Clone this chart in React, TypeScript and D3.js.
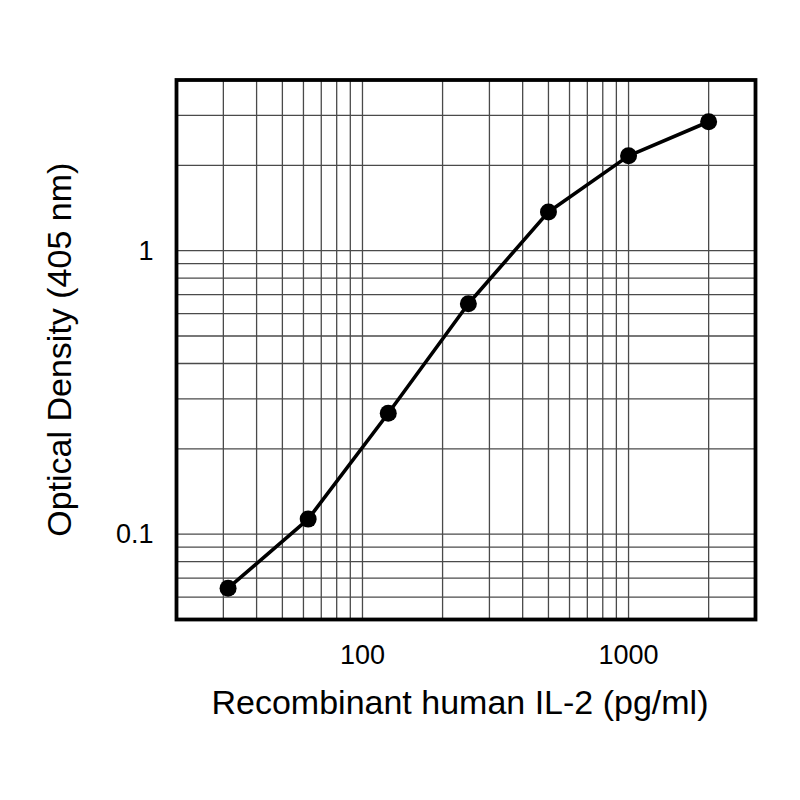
import * as d3 from "d3";

// IL-2 standard curve
const concentrations = [31.25, 62.5, 125, 250, 500, 1000, 2000];
const opticalDensity = [0.0645, 0.113, 0.267, 0.65, 1.37, 2.16, 2.85];

const xGrid = [30, 40, 50, 60, 70, 80, 90, 100, 200, 300, 400, 500, 600, 700, 800, 900, 1000, 2000];
const yGrid = [0.06, 0.07, 0.08, 0.09, 0.1, 0.2, 0.3, 0.4, 0.5, 0.6, 0.7, 0.8, 0.9, 1, 2, 3];
const xTickLabels = [100, 1000];
const yTickLabels = [0.1, 1];

const font = "'Liberation Sans', Arial, Helvetica, sans-serif";

export default function App() {
  const width = 800;
  const height = 800;
  const margin = { top: 80, right: 44.5, bottom: 180.5, left: 176.5 };

  const xScale = d3
    .scaleLog()
    .domain([20, 3000])
    .range([margin.left, width - margin.right]);

  const yScale = d3
    .scaleLog()
    .domain([0.05, 4])
    .range([height - margin.bottom, margin.top]);

  const points = concentrations.map((c, i) => ({ x: c, y: opticalDensity[i] }));

  const lineBuilder = d3
    .line<{ x: number; y: number }>()
    .x((d) => xScale(d.x))
    .y((d) => yScale(d.y));

  const [x0, x1] = xScale.range();
  const [y0, y1] = yScale.range();

  return (
    <svg
      width={width}
      height={height}
      style={{ position: "absolute", left: 0, top: 0, background: "#fff" }}
    >
      <rect x={0} y={0} width={width} height={height} fill="#fff" />

      {/* grid */}
      <g stroke="#4a4a4a" strokeWidth={1.3}>
        {xGrid.map((v) => (
          <line key={`gx${v}`} x1={xScale(v)} x2={xScale(v)} y1={y1} y2={y0} />
        ))}
        {yGrid.map((v) => (
          <line key={`gy${v}`} x1={x0} x2={x1} y1={yScale(v)} y2={yScale(v)} />
        ))}
      </g>

      {/* frame */}
      <rect
        x={x0}
        y={y1}
        width={x1 - x0}
        height={y0 - y1}
        fill="none"
        stroke="#000"
        strokeWidth={3.8}
      />

      {/* curve */}
      <path
        d={lineBuilder(points) ?? undefined}
        fill="none"
        stroke="#000"
        strokeWidth={3.6}
        strokeLinejoin="round"
      />
      {points.map((p, i) => (
        <circle key={i} cx={xScale(p.x)} cy={yScale(p.y)} r={8.5} fill="#000" />
      ))}

      {/* tick labels */}
      <g fontFamily={font} fontSize={27} fill="#000">
        {xTickLabels.map((v) => (
          <text key={`tx${v}`} x={xScale(v)} y={y0 + 44} textAnchor="middle">
            {v}
          </text>
        ))}
        {yTickLabels.map((v) => (
          <text key={`ty${v}`} x={x0 - 23} y={yScale(v)} dy="0.33em" textAnchor="end">
            {v}
          </text>
        ))}
      </g>

      {/* axis titles */}
      <text
        x={(x0 + x1) / 2 - 6}
        y={714}
        textAnchor="middle"
        fontFamily={font}
        fontSize={34}
        fill="#000"
      >
        Recombinant human IL-2 (pg/ml)
      </text>
      <text
        transform={`translate(71, ${(y0 + y1) / 2}) rotate(-90)`}
        textAnchor="middle"
        fontFamily={font}
        fontSize={34}
        fill="#000"
      >
        Optical Density (405 nm)
      </text>
    </svg>
  );
}
